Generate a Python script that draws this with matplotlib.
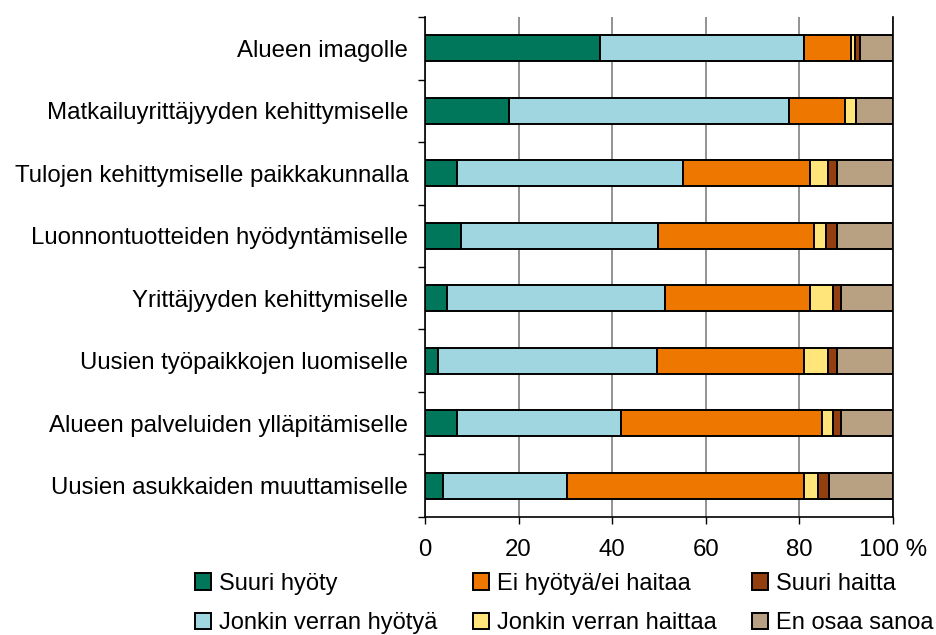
import numpy as np
import matplotlib.pyplot as plt
from matplotlib.patches import Patch

plt.rcParams['font.family'] = ['Liberation Sans', 'DejaVu Sans']

categories = ['Alueen imagolle',
              'Matkailuyrittäjyyden kehittymiselle',
              'Tulojen kehittymiselle paikkakunnalla',
              'Luonnontuotteiden hyödyntämiselle',
              'Yrittäjyyden kehittymiselle',
              'Uusien työpaikkojen luomiselle',
              'Alueen palveluiden ylläpitämiselle',
              'Uusien asukkaiden muuttamiselle']

series_names = ['Suuri hyöty', 'Jonkin verran hyötyä', 'Ei hyötyä/ei haitaa',
                'Jonkin verran haittaa', 'Suuri haitta', 'En osaa sanoa']

suuri_hyoty = [37.5, 18.0, 6.8, 7.8, 4.7, 2.8, 6.8, 3.8]
jonkin_hyotya = [43.4, 59.8, 48.4, 42.1, 46.5, 46.7, 35.1, 26.5]
ei_hyotya = [10.2, 12.0, 27.0, 33.3, 31.0, 31.4, 43.0, 50.6]
jonkin_haittaa = [0.7, 2.2, 4.0, 2.6, 4.9, 5.3, 2.2, 3.1]
suuri_haitta = [1.1, 0.0, 1.9, 2.3, 1.7, 1.9, 1.7, 2.4]
en_osaa = [7.1, 8.0, 11.9, 11.9, 11.2, 11.9, 11.2, 13.6]

colors = ['#00765A', '#9FD6DF', '#EE7700', '#FFE57A', '#933F10', '#B8A082']

data = [suuri_hyoty, jonkin_hyotya, ei_hyotya, jonkin_haittaa, suuri_haitta, en_osaa]

fig = plt.figure(figsize=(9.36, 6.35), dpi=100)
ax = fig.add_axes([0.454, 0.186, 0.500, 0.787])

y = np.arange(len(categories))
left = np.zeros(len(categories))
for vals, col in zip(data, colors):
    vals = np.array(vals)
    ax.barh(y, vals, left=left, height=0.42, color=col, edgecolor='black',
            linewidth=1.4, zorder=3)
    left += vals

ax.set_xlim(0, 100)
ax.set_ylim(len(categories) - 0.5, -0.5)
ax.set_xticks([0, 20, 40, 60, 80, 100])
ax.set_xticklabels(['0', '20', '40', '60', '80', '100 %'])
ax.set_yticks(y)
ax.set_yticklabels(categories)
ax.set_yticks(np.arange(-0.5, len(categories)), minor=True)
ax.tick_params(axis='y', which='major', length=0, pad=12, labelsize=17.25)
ax.tick_params(axis='y', which='minor', length=5, direction='out', width=1)
ax.tick_params(axis='x', length=5, direction='out', width=1, pad=11, labelsize=17.25)

ax.grid(axis='x', color='#808080', linewidth=1.2, zorder=0)
for s in ['left', 'bottom', 'right']:
    ax.spines[s].set_color('black')
    ax.spines[s].set_linewidth(1.2)
ax.spines['top'].set_visible(False)

handles = [Patch(facecolor=c, edgecolor='black', linewidth=1.4) for c in colors]
fig.legend(handles, series_names, ncol=3, loc='upper left',
           bbox_to_anchor=(0.208, 0.098), frameon=False, fontsize=17,
           handlelength=0.68, handleheight=0.68, handletextpad=0.34,
           labelspacing=0.74, columnspacing=1.5, borderpad=0, borderaxespad=0)

fig.savefig('out.png', dpi=100)
